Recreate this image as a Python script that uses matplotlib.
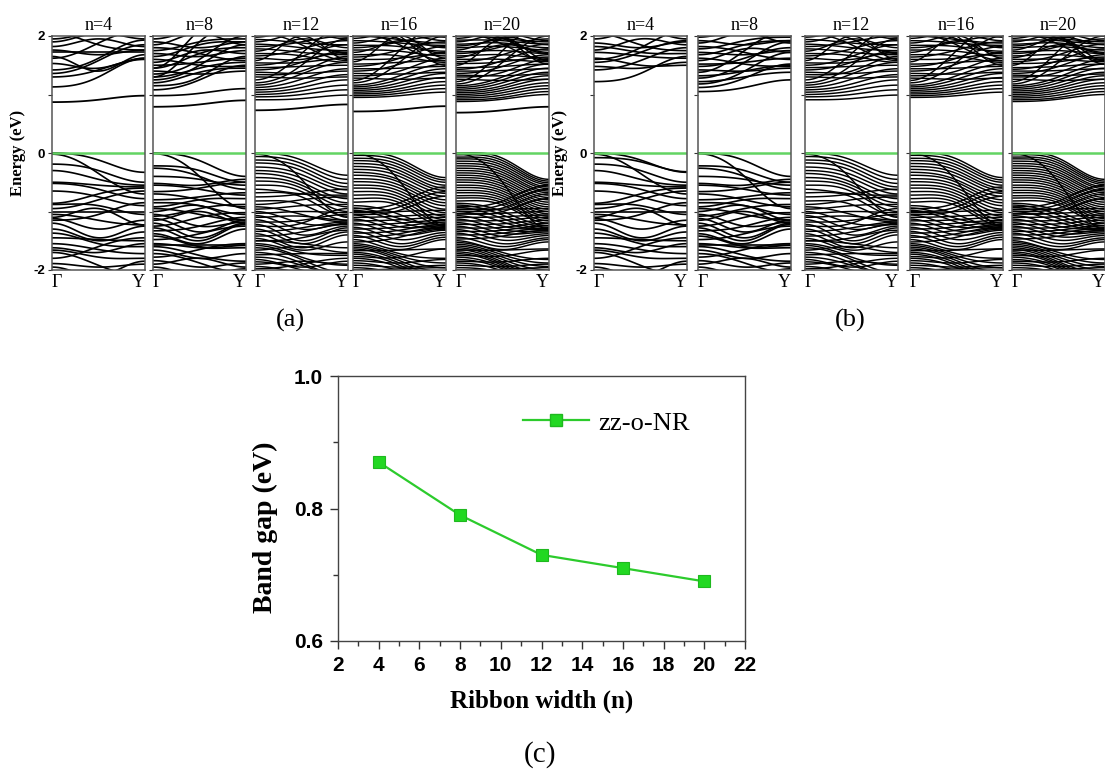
import numpy as np
import matplotlib
matplotlib.use("Agg")
import matplotlib.pyplot as plt
from matplotlib.collections import LineCollection
from matplotlib.lines import Line2D

# ---------------- data ----------------
widths = [4, 8, 12, 16, 20]
band_gap = [0.87, 0.79, 0.73, 0.71, 0.69]          # eV, edge state at Gamma (VBM = 0)
edge_mid = [0.91, 0.83, 0.77, 0.74, 0.73]          # edge state halfway to Y
edge_y = [0.98, 0.90, 0.83, 0.80, 0.79]            # edge state at Y

# bands given as (E at Gamma, E at mid-path, E at Y) in eV
VB4 = [(0.00, -0.12, -0.33), (-0.02, -0.35, -0.70), (-0.19, -0.30, -0.50),
       (-0.30, -0.45, -0.55), (-0.50, -0.55, -0.58), (-0.52, -0.62, -0.78),
       (-0.65, -0.75, -0.90), (-0.86, -0.70, -0.60), (-0.88, -0.90, -1.05),
       (-0.95, -0.80, -0.65), (-1.00, -1.00, -1.00), (-1.05, -1.15, -1.23),
       (-1.10, -0.95, -1.23), (-1.12, -1.30, -1.15), (-1.15, -1.05, -0.85),
       (-1.20, -1.45, -1.25), (-1.30, -1.50, -1.35), (-1.37, -1.55, -1.60),
       (-1.45, -1.48, -1.50), (-1.55, -1.65, -1.72), (-1.62, -1.70, -1.55),
       (-1.66, -1.78, -1.80), (-1.70, -1.92, -2.10), (-1.80, -1.60, -1.45),
       (-1.89, -1.95, -1.90), (-1.95, -2.10, -1.85)]
VB4_EXTRA_B = [(-0.08, -0.15, -0.32)]

VB8 = [(0.00, -0.13, -0.40), (-0.01, -0.40, -0.95), (-0.22, -0.30, -0.50),
       (-0.26, -0.40, -0.62), (-0.40, -0.45, -0.55), (-0.52, -0.55, -0.45),
       (-0.55, -0.62, -0.72), (-0.66, -0.60, -0.50), (-0.70, -0.80, -0.92),
       (-0.80, -0.75, -0.68), (-0.85, -0.90, -1.05), (-0.92, -0.80, -0.78),
       (-0.95, -1.05, -1.15), (-1.00, -0.90, -1.15), (-1.05, -1.25, -1.18),
       (-1.08, -0.95, -0.88), (-1.12, -1.35, -1.15), (-1.15, -1.00, -1.20),
       (-1.20, -1.45, -1.20), (-1.25, -1.10, -1.02), (-1.28, -1.50, -1.22),
       (-1.33, -1.25, -1.10), (-1.38, -1.55, -1.30), (-1.42, -1.60, -1.58),
       (-1.48, -1.38, -1.25), (-1.55, -1.62, -1.62), (-1.60, -1.75, -1.85),
       (-1.66, -1.80, -1.72), (-1.72, -1.88, -2.05), (-1.78, -1.65, -1.55),
       (-1.84, -1.95, -1.88), (-1.90, -1.80, -1.95), (-1.95, -2.10, -1.98),
       (-1.58, -1.58, -1.58)]

VB12 = [(0.00, -0.12, -0.38), (-0.02, -0.45, -1.10), (-0.06, -0.18, -0.45),
        (-0.12, -0.24, -0.52), (-0.17, -0.30, -0.58), (-0.24, -0.37, -0.63),
        (-0.30, -0.43, -0.70), (-0.35, -0.50, -0.78), (-0.42, -0.55, -0.85),
        (-0.48, -0.60, -0.92), (-0.55, -0.66, -1.00), (-0.62, -0.70, -0.72),
        (-0.68, -0.75, -1.08), (-0.75, -0.70, -0.62), (-0.82, -0.88, -1.15),
        (-0.88, -0.80, -0.75), (-0.92, -1.05, -1.18), (-0.96, -0.90, -0.88),
        (-1.00, -1.20, -1.22), (-1.03, -1.00, -1.02), (-1.07, -1.30, -1.20),
        (-1.10, -1.08, -1.15), (-1.14, -1.40, -1.25), (-1.18, -1.15, -1.05),
        (-1.22, -1.50, -1.28), (-1.25, -1.20, -0.95), (-1.30, -1.55, -1.35),
        (-1.34, -1.28, -1.18), (-1.38, -1.62, -1.40), (-1.42, -1.35, -1.22),
        (-1.46, -1.66, -1.52), (-1.50, -1.45, -1.32), (-1.50, -1.55, -1.62),
        (-1.55, -1.70, -1.75), (-1.58, -1.78, -1.92), (-1.62, -1.82, -2.05),
        (-1.66, -1.60, -1.70), (-1.70, -1.88, -2.10), (-1.74, -1.72, -1.72),
        (-1.78, -1.92, -2.10), (-1.82, -1.95, -1.85), (-1.86, -2.00, -2.15),
        (-1.90, -1.85, -1.90), (-1.94, -2.05, -2.10), (-1.98, -1.90, -1.80)]

VB16 = [(0.00, -0.10, -0.42), (-0.01, -0.48, -1.25), (-0.04, -0.15, -0.46),
        (-0.09, -0.20, -0.50), (-0.13, -0.25, -0.55), (-0.18, -0.30, -0.60),
        (-0.23, -0.35, -0.64), (-0.28, -0.40, -0.69), (-0.33, -0.46, -0.74),
        (-0.38, -0.50, -0.80), (-0.44, -0.55, -0.85), (-0.49, -0.60, -0.90),
        (-0.55, -0.65, -0.96), (-0.60, -0.70, -1.02), (-0.66, -0.75, -1.08),
        (-0.72, -0.80, -1.14), (-0.78, -0.85, -1.20), (-0.84, -0.90, -1.25),
        (-0.95, -0.85, -0.58), (-1.00, -0.92, -0.66), (-1.05, -0.98, -0.74),
        (-0.90, -1.05, -1.28), (-0.94, -1.12, -1.22), (-0.98, -1.18, -1.30),
        (-1.02, -1.00, -0.98), (-1.06, -1.26, -1.24), (-1.10, -1.08, -1.05),
        (-1.13, -1.33, -1.28), (-1.16, -1.14, -1.10), (-1.20, -1.40, -1.32),
        (-1.23, -1.20, -1.15), (-1.27, -1.48, -1.36), (-1.30, -1.26, -1.18),
        (-1.34, -1.55, -1.40), (-1.37, -1.32, -1.22), (-1.41, -1.60, -1.44),
        (-1.44, -1.38, -1.26), (-1.48, -1.65, -1.48), (-1.52, -1.44, -1.30),
        (-1.55, -1.72, -1.80), (-1.58, -1.76, -1.88), (-1.61, -1.80, -1.96),
        (-1.64, -1.84, -2.04), (-1.67, -1.66, -1.64), (-1.70, -1.88, -2.10),
        (-1.73, -1.92, -2.15), (-1.77, -1.78, -1.64), (-1.80, -1.96, -2.20),
        (-1.84, -1.88, -1.82), (-1.88, -2.02, -2.20), (-1.92, -1.95, -1.92),
        (-1.96, -2.08, -2.25), (-2.00, -1.98, -1.96)]

VB20 = [(0.00, -0.09, -0.45), (-0.01, -0.50, -1.30), (-0.03, -0.13, -0.48),
        (-0.07, -0.17, -0.51), (-0.10, -0.21, -0.54), (-0.14, -0.25, -0.58),
        (-0.18, -0.29, -0.61), (-0.22, -0.33, -0.65), (-0.26, -0.37, -0.68),
        (-0.30, -0.41, -0.72), (-0.34, -0.45, -0.76), (-0.38, -0.49, -0.80),
        (-0.42, -0.53, -0.84), (-0.46, -0.57, -0.88), (-0.50, -0.61, -0.92),
        (-0.55, -0.65, -0.96), (-0.59, -0.69, -1.00), (-0.64, -0.73, -1.04),
        (-0.68, -0.77, -1.08), (-0.73, -0.81, -1.12), (-0.77, -0.85, -1.16),
        (-0.82, -0.89, -1.20), (-0.92, -0.82, -0.55), (-0.96, -0.88, -0.62),
        (-1.00, -0.94, -0.70), (-1.04, -1.00, -0.78), (-0.86, -1.00, -1.24),
        (-0.89, -1.06, -1.27), (-0.93, -1.12, -1.30), (-0.97, -0.96, -0.95),
        (-1.00, -1.18, -1.32), (-1.04, -1.03, -1.00), (-1.07, -1.25, -1.30),
        (-1.10, -1.09, -1.06), (-1.13, -1.31, -1.33), (-1.16, -1.15, -1.10),
        (-1.19, -1.37, -1.35), (-1.22, -1.21, -1.15), (-1.25, -1.43, -1.38),
        (-1.28, -1.27, -1.20), (-1.31, -1.49, -1.41), (-1.34, -1.32, -1.24),
        (-1.37, -1.55, -1.45), (-1.40, -1.37, -1.28), (-1.44, -1.60, -1.48),
        (-1.47, -1.42, -1.32), (-1.50, -1.65, -1.52), (-1.53, -1.70, -1.82),
        (-1.56, -1.74, -1.88), (-1.59, -1.78, -1.94), (-1.62, -1.82, -2.00),
        (-1.65, -1.86, -2.06), (-1.66, -1.66, -1.64), (-1.69, -1.89, -2.10),
        (-1.72, -1.92, -2.14), (-1.75, -1.76, -1.66), (-1.78, -1.95, -2.18),
        (-1.82, -1.98, -2.22), (-1.85, -1.86, -1.80), (-1.88, -2.02, -2.25),
        (-1.92, -1.94, -1.90), (-1.96, -2.06, -2.28), (-2.00, -1.99, -1.96)]

CB4_A = [(1.13, 1.30, 1.62), (1.30, 1.42, 1.60), (1.36, 1.58, 1.85),
         (1.42, 1.62, 1.93), (1.53, 1.45, 1.62), (1.65, 1.40, 1.68),
         (1.72, 1.72, 1.72), (1.76, 1.68, 1.76), (1.82, 1.95, 1.82),
         (1.62, 1.88, 2.10), (1.90, 2.05, 1.95), (2.05, 1.85, 1.76),
         (1.95, 2.10, 2.15)]

CB8_A = [(0.98, 1.02, 1.10), (1.08, 1.25, 1.50), (1.15, 1.30, 1.65),
         (1.20, 1.38, 1.45), (1.25, 1.50, 1.85), (1.30, 1.45, 1.55),
         (1.35, 1.60, 2.00), (1.40, 1.35, 1.40), (1.45, 1.70, 1.80),
         (1.50, 1.55, 1.62), (1.55, 1.75, 1.70), (1.60, 1.50, 1.48),
         (1.65, 1.85, 1.90), (1.70, 1.65, 1.75), (1.75, 1.90, 1.95),
         (1.80, 1.70, 1.58), (1.85, 2.05, 1.85), (1.90, 1.80, 1.90),
         (1.95, 2.10, 2.00), (1.30, 1.90, 2.20), (1.45, 2.10, 2.30)]

CB4_B = [(1.22, 1.36, 1.65), (1.42, 1.58, 1.80), (1.48, 1.45, 1.55),
         (1.55, 1.72, 1.92), (1.62, 1.50, 1.50), (1.72, 1.66, 1.62),
         (1.76, 1.95, 1.85), (1.82, 1.72, 1.70), (1.88, 1.80, 1.90),
         (1.95, 2.10, 1.95), (2.05, 1.85, 1.75), (1.60, 1.80, 2.10)]

CB8_B = [(1.05, 1.12, 1.25), (1.12, 1.28, 1.52), (1.18, 1.40, 1.72),
         (1.22, 1.30, 1.38), (1.28, 1.55, 1.90), (1.32, 1.40, 1.50),
         (1.38, 1.75, 2.10), (1.42, 1.40, 1.45), (1.48, 1.62, 1.80),
         (1.52, 1.55, 1.62), (1.58, 1.78, 1.72), (1.62, 1.52, 1.48),
         (1.68, 1.85, 1.92), (1.72, 1.68, 1.75), (1.78, 1.92, 1.98),
         (1.82, 1.72, 1.60), (1.88, 2.05, 1.88), (1.92, 1.85, 1.92),
         (1.98, 2.10, 2.02)]

CB12 = [(0.91, 0.93, 0.99), (0.96, 1.00, 1.08), (1.00, 1.06, 1.16),
        (1.04, 1.12, 1.25), (1.08, 1.18, 1.34), (1.12, 1.26, 1.44),
        (1.16, 1.35, 1.55), (1.20, 1.50, 1.95), (1.25, 1.70, 2.15),
        (1.30, 1.28, 1.30), (1.34, 1.40, 1.65), (1.38, 1.36, 1.40),
        (1.42, 1.55, 1.75), (1.46, 1.48, 1.50), (1.50, 1.65, 1.85),
        (1.54, 1.55, 1.62), (1.58, 2.00, 1.60), (1.62, 1.60, 1.72),
        (1.66, 1.78, 1.92), (1.70, 1.66, 1.55), (1.74, 1.95, 1.80),
        (1.78, 1.72, 1.68), (1.82, 1.90, 2.00), (1.86, 1.80, 1.75),
        (1.90, 2.05, 1.95), (1.94, 1.88, 1.85), (1.98, 2.10, 1.98),
        (2.05, 1.85, 1.58), (2.10, 1.95, 1.70)]

CB16 = [(0.95, 0.98, 1.04), (0.98, 1.02, 1.10), (1.01, 1.06, 1.16),
        (1.04, 1.10, 1.22), (1.07, 1.15, 1.29), (1.10, 1.20, 1.36),
        (1.13, 1.26, 1.44), (1.16, 1.32, 1.52), (1.20, 1.55, 2.00),
        (1.24, 1.75, 2.20), (1.28, 1.26, 1.28), (1.32, 1.40, 1.62),
        (1.36, 1.35, 1.38), (1.40, 1.52, 1.72), (1.44, 1.45, 1.48),
        (1.48, 1.62, 1.82), (1.52, 1.55, 1.58), (1.56, 2.00, 1.62),
        (1.60, 1.62, 1.70), (1.64, 1.76, 1.90), (1.68, 1.66, 1.55),
        (1.72, 1.92, 1.80), (1.76, 1.74, 1.66), (1.80, 1.90, 2.00),
        (1.84, 1.82, 1.74), (1.88, 2.02, 1.92), (1.92, 1.88, 1.84),
        (1.96, 2.08, 1.98), (2.00, 1.94, 1.88), (2.05, 1.85, 1.58),
        (2.10, 1.95, 1.70), (2.15, 2.00, 1.50)]

CB20 = [(0.88, 0.92, 1.00), (0.91, 0.95, 1.05), (0.94, 0.99, 1.10),
        (0.97, 1.03, 1.15), (1.00, 1.07, 1.20), (1.03, 1.11, 1.26),
        (1.06, 1.15, 1.32), (1.09, 1.20, 1.38), (1.12, 1.25, 1.45),
        (1.15, 1.30, 1.52), (1.18, 1.55, 2.00), (1.22, 1.75, 2.20),
        (1.26, 1.24, 1.26), (1.30, 1.38, 1.60), (1.33, 1.32, 1.35),
        (1.36, 1.48, 1.68), (1.40, 1.41, 1.44), (1.43, 1.58, 1.78),
        (1.46, 1.48, 1.52), (1.50, 1.95, 1.58), (1.53, 1.56, 1.64),
        (1.56, 1.68, 1.86), (1.60, 1.60, 1.56), (1.63, 1.85, 1.72),
        (1.66, 1.68, 1.62), (1.70, 1.82, 1.95), (1.73, 1.75, 1.70),
        (1.76, 1.98, 1.85), (1.80, 1.82, 1.76), (1.83, 1.96, 2.02),
        (1.86, 1.88, 1.80), (1.90, 2.04, 1.92), (1.93, 1.92, 1.86),
        (1.96, 2.08, 2.00), (2.00, 1.96, 1.90), (2.05, 1.86, 1.58),
        (2.10, 1.96, 1.70), (2.15, 2.02, 1.52)]

# ---------------- drawing helpers ----------------
K = np.linspace(0.0, 1.0, 80)


def band_curve(e_g, e_m, e_y):
    """Smooth dispersion through the Gamma, mid-path and Y energies."""
    s = 0.5 * (e_g + e_y)
    a = 0.5 * (s + e_m)
    c = 0.5 * (s - e_m)
    b = 0.5 * (e_g - e_y)
    return a + b * np.cos(np.pi * K) + c * np.cos(2 * np.pi * K)


def draw_bands(ax, bands, lw=0.9):
    segs = [np.column_stack([K, band_curve(*b)]) for b in bands]
    ax.add_collection(LineCollection(segs, colors="black", linewidths=lw,
                                     capstyle="round", joinstyle="round"))


W, H = 1105, 773
fig = plt.figure(figsize=(W / 100, H / 100), dpi=100)


def fig_axes(x0, y0, x1, y1):
    return fig.add_axes([x0 / W, 1 - y1 / H, (x1 - x0) / W, (y1 - y0) / H])


serif = "Liberation Serif"
sans = "Liberation Sans"

valence = {4: VB4, 8: VB8, 12: VB12, 16: VB16, 20: VB20}
cond_a = {4: CB4_A, 8: CB8_A, 12: CB12, 16: CB16, 20: CB20}
cond_b = {4: CB4_B, 8: CB8_B, 12: CB12, 16: CB16, 20: CB20}

lefts_a = [52, 153, 255, 353, 456]
lefts_b = [594, 698, 805, 910, 1012]
panel_w = 93
top, bottom = 36, 270

for side, lefts in (("a", lefts_a), ("b", lefts_b)):
    for i, n in enumerate(widths):
        x0 = lefts[i]
        ax = fig_axes(x0, top, x0 + panel_w, bottom)
        ax.set_xlim(0, 1)
        ax.set_ylim(-2, 2)
        vb = list(valence[n])
        if side == "b" and n == 4:
            vb += VB4_EXTRA_B
        cb = list(cond_b[n]) if side == "b" else list(cond_a[n])
        lw = 1.2 if n <= 8 else 1.05
        draw_bands(ax, vb, lw)
        draw_bands(ax, cb, lw)
        if side == "a":
            ax.plot(K, band_curve(band_gap[i], edge_mid[i], edge_y[i]),
                    color="black", lw=1.3)
        ax.axhline(0, color="#63d463", lw=1.8, zorder=5)
        for sp in ax.spines.values():
            sp.set_color("#555555")
            sp.set_linewidth(1.1)
            sp.set_zorder(6)
        ax.set_xticks([])
        ax.set_yticks([-2, -1, 0, 1, 2])
        ax.tick_params(axis="y", direction="out", length=3, width=0.8,
                       color="#333333", pad=2)
        if i == 0:
            ax.set_yticklabels(["-2", "", "0", "", "2"], fontfamily=sans,
                               fontweight="bold", fontsize=9.5)
            ax.set_ylabel("Energy (eV)", fontfamily=serif, fontweight="bold",
                          fontsize=12, labelpad=5)
        else:
            ax.set_yticklabels([])
        ax.set_title(f"n={n}", fontfamily=serif, fontsize=13, pad=4)
        ax.text(0.0, -0.015, "Γ", transform=ax.transAxes, ha="left", va="top",
                fontfamily=serif, fontsize=13)
        ax.text(1.0, -0.015, "Y", transform=ax.transAxes, ha="right", va="top",
                fontfamily=serif, fontsize=13)

fig.text(290 / W, 1 - 320 / H, "(a)", ha="center", va="center",
         fontfamily=serif, fontsize=19)
fig.text(850 / W, 1 - 320 / H, "(b)", ha="center", va="center",
         fontfamily=serif, fontsize=19)

# ---------------- band gap vs ribbon width ----------------
axc = fig_axes(338, 376, 745, 641)
green_line = "#2ccb2c"
green_face = "#22d822"
axc.plot(widths, band_gap, color=green_line, lw=1.6, marker="s",
         markersize=8, markerfacecolor=green_face,
         markeredgecolor="#1fb81f", markeredgewidth=0.8)
axc.set_xlim(2, 22)
axc.set_ylim(0.6, 1.0)
axc.set_xticks(np.arange(2, 23, 2))
axc.set_xticks(np.arange(3, 22, 2), minor=True)
axc.set_yticks([0.6, 0.8, 1.0])
axc.set_yticks([0.7, 0.9], minor=True)
axc.set_yticklabels(["0.6", "0.8", "1.0"])
axc.tick_params(which="both", direction="out", top=False, right=False,
                width=1.0, color="#333333")
axc.tick_params(which="major", length=6, pad=5)
axc.tick_params(which="minor", length=3.5)
for lab in axc.get_xticklabels() + axc.get_yticklabels():
    lab.set_fontfamily(sans)
    lab.set_fontweight("bold")
    lab.set_fontsize(15)
for sp in axc.spines.values():
    sp.set_color("#444444")
    sp.set_linewidth(1.0)
axc.set_xlabel("Ribbon width (n)", fontfamily=serif, fontweight="bold",
               fontsize=18, labelpad=10)
fig.text(265 / W, 1 - 527 / H, "Band gap (eV)", rotation=90, ha="center",
         va="center", fontfamily=serif, fontweight="bold", fontsize=20)
handle = Line2D([], [], color=green_line, lw=1.6, marker="s", markersize=8,
                markerfacecolor=green_face, markeredgecolor="#1fb81f")
leg = axc.legend([handle], ["zz-o-NR"], loc="center left", frameon=False,
                 prop={"family": serif, "size": 19}, handlelength=2.5,
                 bbox_to_anchor=(0.455, 0.823), borderaxespad=0,
                 borderpad=0, handletextpad=0.35)

fig.text(540 / W, 1 - 755 / H, "(c)", ha="center", va="center",
         fontfamily=serif, fontsize=21)

fig.savefig("out.png", dpi=100)
